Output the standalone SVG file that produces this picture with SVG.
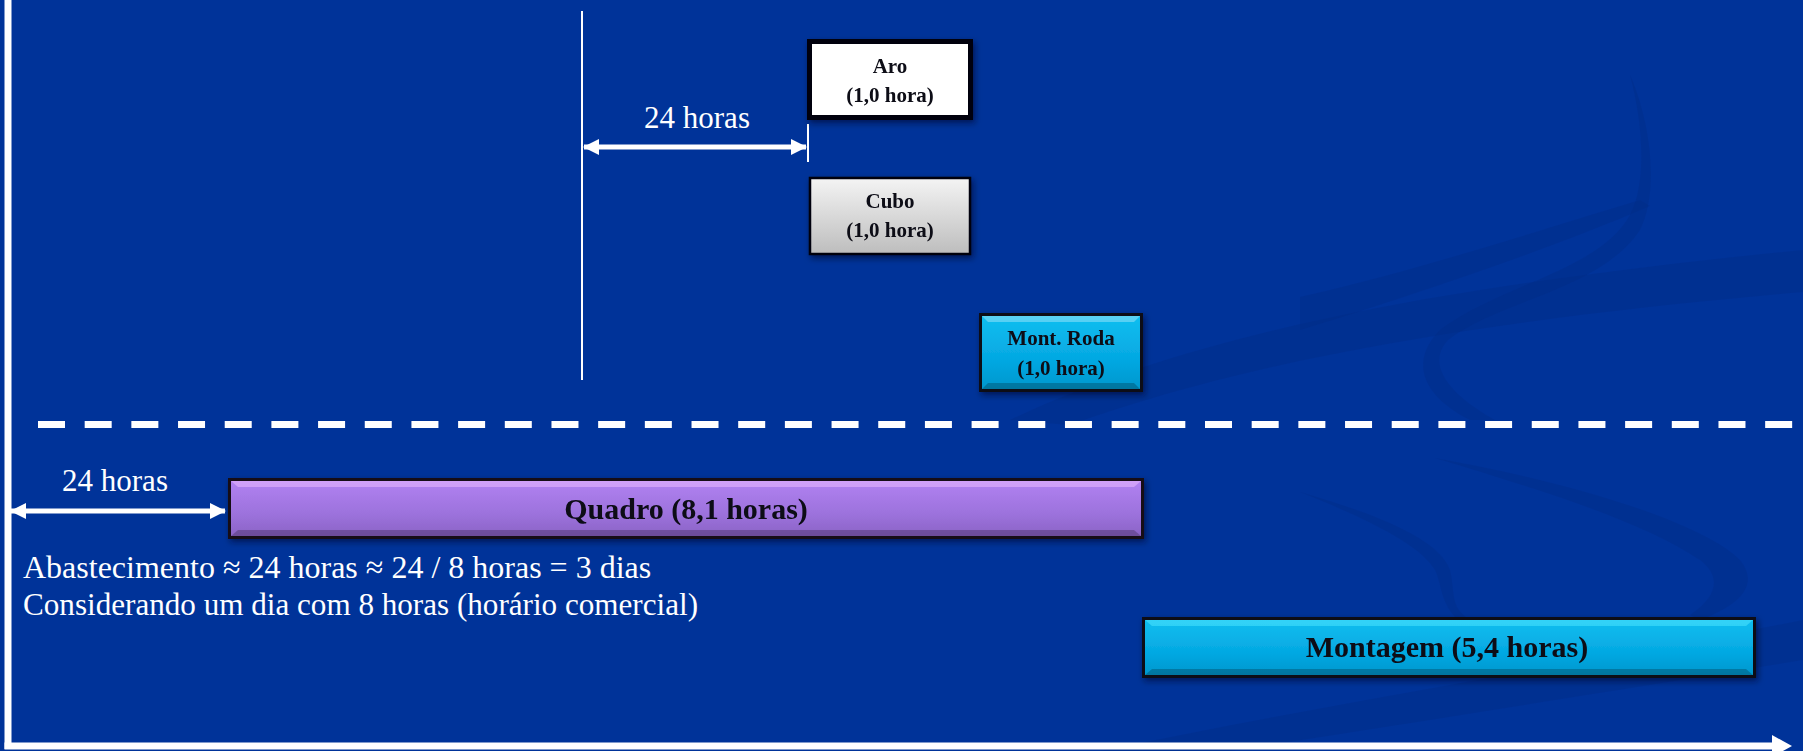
<svg xmlns="http://www.w3.org/2000/svg" width="1803" height="751" viewBox="0 0 1803 751">
  <style>
    .lbl { font-family: "Liberation Serif", "Times New Roman", serif; fill: #ffffff; }
    .box-txt { font-family: "Liberation Serif", "Times New Roman", serif; font-weight: bold; fill: #0a0a14; text-anchor: middle; }
    .swoosh { fill: #002a80; opacity: 0.3; }
    .axis { stroke: #ffffff; stroke-width: 7; fill: none; }
    .dim { stroke: #ffffff; stroke-width: 5; fill: none; }
    .hi { fill: #ffffff; opacity: 0.3; }
    .lo { fill: #000000; opacity: 0.22; }
  </style>
  <defs>
    <linearGradient id="gCubo" x1="0" y1="0" x2="0" y2="1">
      <stop offset="0" stop-color="#f4f4f4"/>
      <stop offset="1" stop-color="#bdbdbd"/>
    </linearGradient>
    <linearGradient id="gCyan" x1="0" y1="0" x2="0" y2="1">
      <stop offset="0" stop-color="#12bff0"/>
      <stop offset="0.6" stop-color="#04a8e2"/>
      <stop offset="1" stop-color="#0096cc"/>
    </linearGradient>
    <linearGradient id="gPurple" x1="0" y1="0" x2="0" y2="1">
      <stop offset="0" stop-color="#b282f2"/>
      <stop offset="0.6" stop-color="#9c72dc"/>
      <stop offset="1" stop-color="#8a62c4"/>
    </linearGradient>
    <filter id="shadow" x="-10%" y="-20%" width="120%" height="150%">
      <feDropShadow dx="2" dy="3" stdDeviation="3" flood-color="#000020" flood-opacity="0.55"/>
    </filter>
    <marker id="head" viewBox="0 0 16 16" refX="15" refY="8" markerWidth="16" markerHeight="16" markerUnits="userSpaceOnUse" orient="auto-start-reverse">
      <path d="M0,0 L16,8 L0,16 Z" fill="#ffffff"/>
    </marker>
  </defs>

  <!-- background -->
  <rect x="0" y="0" width="1803" height="751" fill="#003399"/>
  <g id="background-swooshes">
    <path class="swoosh" d="M1010,420 C1200,330 1450,285 1803,250 L1803,292 C1480,320 1250,360 1070,425 Z"/>
    <path class="swoosh" d="M1300,297 C1420,270 1540,230 1640,200 L1650,206 C1560,245 1430,290 1300,330 Z"/>
    <path class="swoosh" d="M1630,75 C1650,120 1660,190 1640,230 C1600,290 1500,300 1448,340 C1425,365 1450,395 1495,420 L1470,420 C1420,395 1410,360 1440,330 C1500,285 1600,270 1630,215 C1648,180 1642,120 1630,75 Z"/>
    <path class="swoosh" d="M1435,458 C1560,480 1700,520 1740,560 C1760,585 1740,605 1700,620 L1690,615 C1720,595 1720,575 1700,560 C1640,520 1540,490 1435,458 Z"/>
    <path class="swoosh" d="M1300,492 C1380,515 1440,540 1450,570 C1455,590 1450,605 1466,617 L1455,617 C1440,600 1442,585 1435,570 C1420,545 1370,520 1300,492 Z"/>
    <path class="swoosh" d="M1100,751 C1350,700 1600,660 1803,620 L1803,660 C1620,690 1400,725 1230,751 Z"/>
  </g>

  <!-- time axes and separators -->
  <g id="connectors">
    <line class="axis" x1="8" y1="0" x2="8" y2="749"/>
    <line class="axis" x1="4.5" y1="746" x2="1776" y2="746"/>
    <path d="M1772,735 L1792,746 L1772,757 Z" fill="#ffffff"/>
    <line x1="38" y1="424.5" x2="1792.5" y2="424.5" stroke="#ffffff" stroke-width="7" stroke-dasharray="27 19.68"/>
    <line x1="582" y1="11" x2="582" y2="380" stroke="#ffffff" stroke-width="2"/>
    <line x1="808" y1="124" x2="808" y2="162" stroke="#ffffff" stroke-width="2"/>
    <line class="dim" x1="584" y1="147" x2="806" y2="147" marker-start="url(#head)" marker-end="url(#head)"/>
    <line class="dim" x1="11" y1="511" x2="225" y2="511" marker-start="url(#head)" marker-end="url(#head)"/>
  </g>

  <!-- labels -->
  <g id="labels">
    <text class="lbl" x="697" y="128" font-size="31" text-anchor="middle">24 horas</text>
    <text class="lbl" x="115" y="491" font-size="31" text-anchor="middle">24 horas</text>
    <text class="lbl" x="23" y="578" font-size="32">Abastecimento ≈ 24 horas ≈ 24 / 8 horas = 3 dias</text>
    <text class="lbl" x="23" y="615" font-size="32" textLength="675" lengthAdjust="spacingAndGlyphs">Considerando um dia com 8 horas (horário comercial)</text>
  </g>

  <!-- Aro -->
  <g id="node-aro" filter="url(#shadow)">
    <rect x="809.5" y="41.5" width="161" height="76" fill="#ffffff" stroke="#000008" stroke-width="5"/>
    <text class="box-txt" x="890" y="73" font-size="21">Aro</text>
    <text class="box-txt" x="890" y="102" font-size="21">(1,0 hora)</text>
  </g>

  <!-- Cubo -->
  <g id="node-cubo" filter="url(#shadow)">
    <rect x="810" y="178" width="160" height="76" fill="url(#gCubo)" stroke="#000010" stroke-width="2.5"/>
    <text class="box-txt" x="890" y="208" font-size="21">Cubo</text>
    <text class="box-txt" x="890" y="237" font-size="21">(1,0 hora)</text>
  </g>

  <!-- Mont. Roda -->
  <g id="node-mont-roda" filter="url(#shadow)">
    <rect x="980.5" y="314.5" width="161" height="76" fill="url(#gCyan)" stroke="#0a0a14" stroke-width="3"/>
    <path class="hi" d="M982,316 L1140,316 L1134,322 L988,322 Z"/>
    <path class="lo" d="M982,389 L1140,389 L1134,383 L988,383 Z"/>
    <text class="box-txt" x="1061" y="345" font-size="21">Mont. Roda</text>
    <text class="box-txt" x="1061" y="375" font-size="21">(1,0 hora)</text>
  </g>

  <!-- Quadro -->
  <g id="node-quadro" filter="url(#shadow)">
    <rect x="229.5" y="479.5" width="913" height="58" fill="url(#gPurple)" stroke="#121018" stroke-width="3"/>
    <path d="M231,481 L1141,481 L1134,487 L238,487 Z" fill="#f0c0ff" opacity="0.5"/>
    <path class="lo" d="M231,536 L1141,536 L1134,530 L238,530 Z"/>
    <text class="box-txt" x="686" y="519" font-size="30">Quadro (8,1 horas)</text>
  </g>

  <!-- Montagem -->
  <g id="node-montagem" filter="url(#shadow)">
    <rect x="1143.5" y="618.5" width="611" height="58" fill="url(#gCyan)" stroke="#0a0a14" stroke-width="3"/>
    <path d="M1145,620 L1753,620 L1746,626 L1152,626 Z" fill="#50e8ff" opacity="0.5"/>
    <path class="lo" d="M1145,675 L1753,675 L1746,669 L1152,669 Z"/>
    <text class="box-txt" x="1447" y="657" font-size="30">Montagem (5,4 horas)</text>
  </g>
</svg>
